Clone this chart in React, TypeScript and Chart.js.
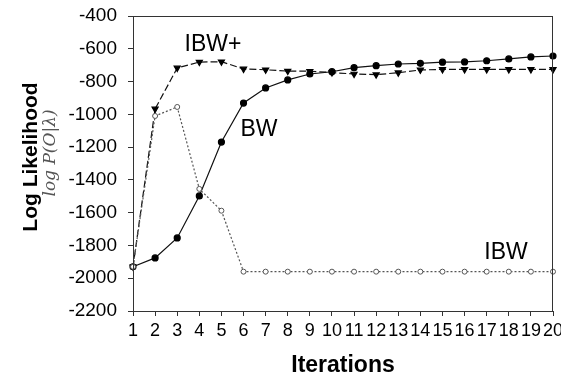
import React, { useEffect, useRef } from "react";
import { Chart, registerables } from "chart.js";

Chart.register(...registerables);

const iterations = ["1","2","3","4","5","6","7","8","9","10","11","12","13","14","15","16","17","18","19","20"];
const bwValues = [-1930, -1876, -1754, -1498, -1169, -931, -839, -790, -754, -740, -715, -703, -693, -689, -682, -680, -673, -662, -650, -644];
const ibwPlusValues = [-1930, -967, -717, -681, -679, -723, -728, -736, -737, -745, -754, -758, -746, -729, -726, -726, -726, -726, -726, -726];
const ibwValues = [-1930, -1010, -955, -1455, -1588, -1960, -1960, -1960, -1960, -1960, -1960, -1960, -1960, -1960, -1960, -1960, -1960, -1960, -1960, -1960];
const yMin = -2200;
const yMax = -400;
const yStep = 200;

const FONT = "'Liberation Sans', Arial, sans-serif";

const decorPlugin = {
  id: "decor",
  afterDraw(chart: any) {
    const { ctx, chartArea } = chart;
    ctx.save();
    // frame
    ctx.strokeStyle = "#333";
    ctx.lineWidth = 1;
    ctx.strokeRect(chartArea.left + 0.5, chartArea.top + 0.5, chartArea.right - chartArea.left - 1, chartArea.bottom - chartArea.top);
    // annotations
    ctx.fillStyle = "#000";
    ctx.font = `23px ${FONT}`;
    ctx.textAlign = "center";
    ctx.textBaseline = "middle";
    ctx.fillText("IBW+", 213, 45);
    ctx.fillText("BW", 259, 130);
    ctx.fillText("IBW", 506, 253);
    // axis titles
    ctx.textBaseline = "alphabetic";
    ctx.font = `bold 23px ${FONT}`;
    ctx.fillText("Iterations", 343, 372);
    ctx.save();
    ctx.translate(37, 157);
    ctx.rotate(-Math.PI / 2);
    ctx.font = `bold 21px ${FONT}`;
    ctx.fillText("Log Likelihood", 0, 0);
    ctx.restore();
    ctx.save();
    ctx.translate(55, 153);
    ctx.rotate(-Math.PI / 2);
    ctx.fillStyle = "#555";
    ctx.font = `italic 17px 'DejaVu Serif', 'Liberation Serif', serif`;
    ctx.fillText("log P(O|\u03BB)", 0, 0);
    ctx.restore();
    ctx.restore();
  },
};

export default function App() {
  const ref = useRef<HTMLCanvasElement | null>(null);
  useEffect(() => {
    document.body.style.margin = "0";
    const chart = new Chart(ref.current as HTMLCanvasElement, {
      type: "line",
      data: {
        labels: iterations,
        datasets: [
          {
            label: "IBW",
            data: ibwValues,
            borderColor: "#555",
            borderWidth: 1.2,
            borderDash: [2, 2],
            pointStyle: "circle",
            pointRadius: 2.5,
            pointBackgroundColor: "#fff",
            pointBorderColor: "#555",
            pointBorderWidth: 1,
            tension: 0,
          },
          {
            label: "BW",
            data: bwValues,
            borderColor: "#111",
            borderWidth: 1.2,
            pointStyle: "circle",
            pointRadius: 3,
            pointBackgroundColor: "#000",
            pointBorderColor: "#000",
            tension: 0,
          },
          {
            label: "IBW+",
            data: ibwPlusValues,
            borderColor: "#111",
            borderWidth: 1.2,
            borderDash: [7, 3],
            pointStyle: "triangle",
            rotation: 180,
            pointRadius: 3.5,
            pointBackgroundColor: "#000",
            pointBorderColor: "#000",
            tension: 0,
          },
        ],
      },
      options: {
        animation: false,
        responsive: false,
        maintainAspectRatio: false,
        layout: { padding: { top: 16, right: 8, left: 0, bottom: 0 } },
        plugins: { legend: { display: false }, tooltip: { enabled: false } },
        scales: {
          x: {
            type: "category",
            offset: false,
            grid: { display: true, drawOnChartArea: false, drawTicks: true, tickLength: 5, color: "#333" },
            border: { display: true, color: "#333" },
            ticks: { autoSkip: false, maxRotation: 0, color: "#000", font: { family: FONT, size: 18 }, padding: 4 },
            afterFit: (s: any) => { s.height = 68; s.paddingLeft = 0; s.paddingRight = 0; },
          },
          y: {
            min: yMin,
            max: yMax,
            grid: { display: true, drawOnChartArea: false, drawTicks: true, tickLength: 5, color: "#333" },
            border: { display: true, color: "#333" },
            ticks: { stepSize: yStep, color: "#000", font: { family: FONT, size: 19 }, padding: 11, callback: (v: any) => String(v) },
            afterFit: (s: any) => { s.width = 133; s.paddingTop = 0; s.paddingBottom = 0; },
          },
        },
      },
      plugins: [decorPlugin],
    } as any);
    return () => chart.destroy();
  }, []);
  return (
    <div style={{ position: "fixed", left: 0, top: 0, width: 561, height: 379, background: "#fff" }}>
      <canvas ref={ref} width={561} height={379} style={{ width: 561, height: 379 }} />
    </div>
  );
}
